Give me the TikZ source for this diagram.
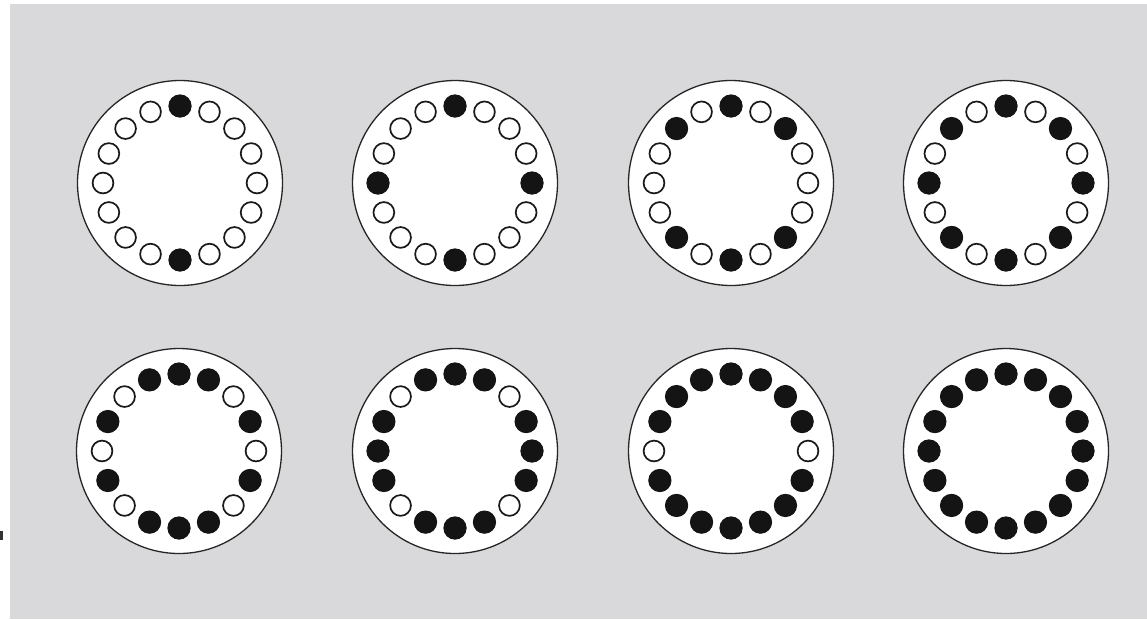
\documentclass[tikz,border=0pt]{standalone}
\definecolor{bg}{RGB}{217,217,219}
\tikzset{
  plate/.style={circle, draw=black!85, fill=white, line width=1.3pt, minimum size=205pt, inner sep=0pt},
  hole/.style={draw=black!90, fill=white, line width=1.7pt},
  knob/.style={fill=black!92}
}
\begin{document}
\begin{tikzpicture}[x=1pt,y=-1pt]
\useasboundingbox (0,0) rectangle (1147,619);
\fill[bg] (10,4) rectangle (1147,619);
\fill[black!80] (0,531) rectangle (2.5,540);
\foreach \cx/\cy/\filled [count=\i] in {
  180/183/{0,8},
  455/183/{0,4,8,12},
  731/183/{0,2,6,8,10,14},
  1006/183/{0,2,4,6,8,10,12,14},
  179/451/{0,1,3,5,7,8,9,11,13,15},
  455/451/{0,1,3,4,5,7,8,9,11,12,13,15},
  731/451/{0,1,2,3,5,6,7,8,9,10,11,13,14,15},
  1006/451/{0,1,2,3,4,5,6,7,8,9,10,11,12,13,14,15}} {
  \node[plate] (p\i) at (\cx,\cy) {};
  \foreach \k in {0,...,15}
    \draw[hole] (p\i.center) ++(-90+22.5*\k:77) circle (10.4);
  \foreach \k in \filled
    \fill[knob] (p\i.center) ++(-90+22.5*\k:77) circle (11.6);
}
\end{tikzpicture}
\end{document}
